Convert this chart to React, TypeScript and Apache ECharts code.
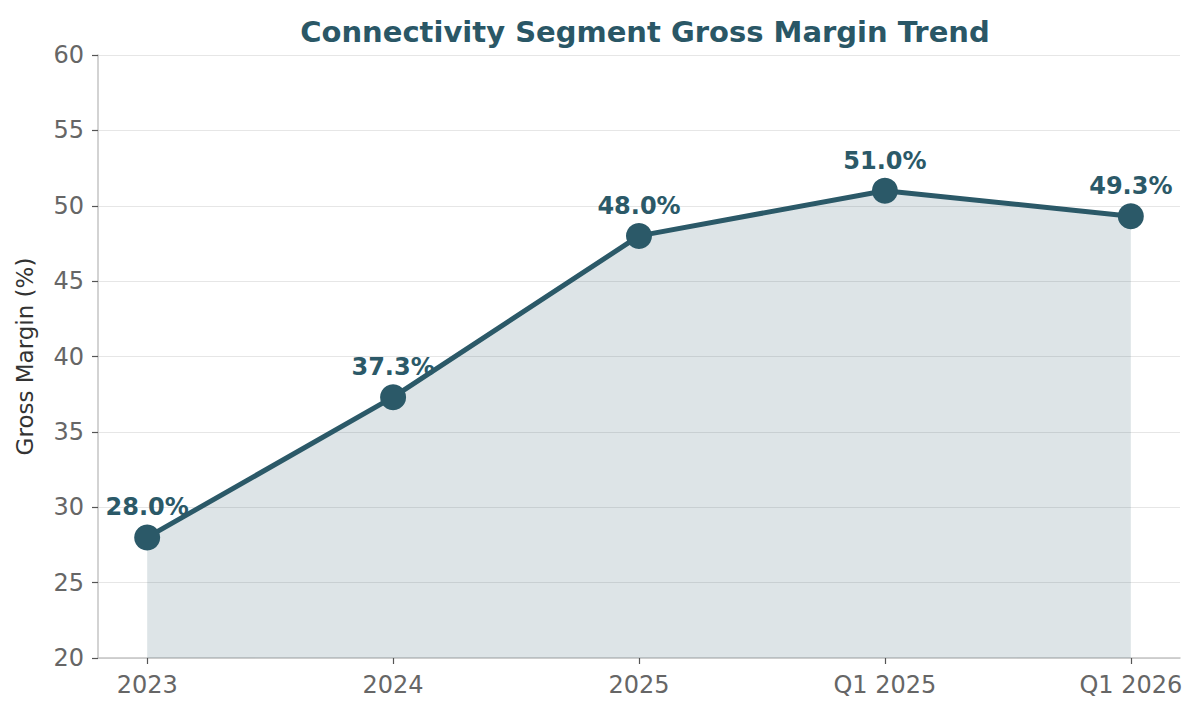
import { useEffect, useRef } from 'react'
import * as echarts from 'echarts'

const categories = ['2023', '2024', '2025', 'Q1 2025', 'Q1 2026']
const grossMargin = [28.0, 37.3, 48.0, 51.0, 49.3]
const yTicks = [20, 25, 30, 35, 40, 45, 50, 55, 60]

const MAIN = '#2b5968'
const FONT = 'DejaVu Sans'

export default function App() {
  const chartRef = useRef<HTMLDivElement | null>(null)

  useEffect(() => {
    if (!chartRef.current) {
      return
    }

    const chart = echarts.init(chartRef.current, null, { renderer: 'svg' })
    const positions = categories.map((_, i) => i)

    chart.setOption({
      animation: false,
      textStyle: { fontFamily: FONT },
      title: {
        text: 'Connectivity Segment Gross Margin Trend',
        left: 640,
        top: 12,
        textAlign: 'center',
        textStyle: { fontFamily: FONT, fontSize: 29, fontWeight: 'bold', color: '#2a5766' },
      },
      grid: { left: 98, right: 20, top: 55, bottom: 59 },
      xAxis: {
        type: 'value',
        min: -0.2,
        max: 4.2,
        axisLine: { show: true, onZero: false, lineStyle: { color: '#c4c4c4', width: 1.5 } },
        axisTick: {
          show: true,
          customValues: positions,
          length: 6,
          lineStyle: { color: '#555', width: 1.2 },
        },
        axisLabel: {
          customValues: positions,
          formatter: (v: number) => categories[Math.round(v)],
          fontSize: 24,
          color: '#666',
          margin: 15,
          fontFamily: FONT,
        },
        splitLine: { show: false },
      },
      yAxis: {
        type: 'value',
        min: yTicks[0],
        max: yTicks[yTicks.length - 1],
        interval: 5,
        name: 'Gross Margin (%)',
        nameLocation: 'middle',
        nameGap: 62,
        nameTextStyle: { fontSize: 23, color: '#333', fontFamily: FONT },
        axisLine: { show: true, onZero: false, lineStyle: { color: '#c4c4c4', width: 1.5 } },
        axisTick: { show: true, length: 6, lineStyle: { color: '#555', width: 1.2 } },
        axisLabel: { fontSize: 24, color: '#666', margin: 14, fontFamily: FONT },
        splitLine: { show: true, lineStyle: { color: '#e6e6e6', width: 1.2 } },
      },
      series: [
        {
          type: 'line',
          data: grossMargin.map((v, i) => [i, v]),
          symbol: 'circle',
          symbolSize: 26,
          lineStyle: { color: MAIN, width: 5 },
          itemStyle: { color: MAIN },
          areaStyle: { color: MAIN, opacity: 0.16, origin: 'start' },
          label: {
            show: true,
            position: 'top',
            distance: 5,
            formatter: (p: { value: number[] }) => p.value[1].toFixed(1) + '%',
            fontSize: 24,
            fontWeight: 'bold',
            color: MAIN,
            fontFamily: FONT,
          },
          z: 3,
        },
      ],
    })

    const resize = () => chart.resize()
    window.addEventListener('resize', resize)
    return () => {
      window.removeEventListener('resize', resize)
      chart.dispose()
    }
  }, [])

  return <div ref={chartRef} style={{ width: 1200, height: 717, margin: -8 }} />
}
